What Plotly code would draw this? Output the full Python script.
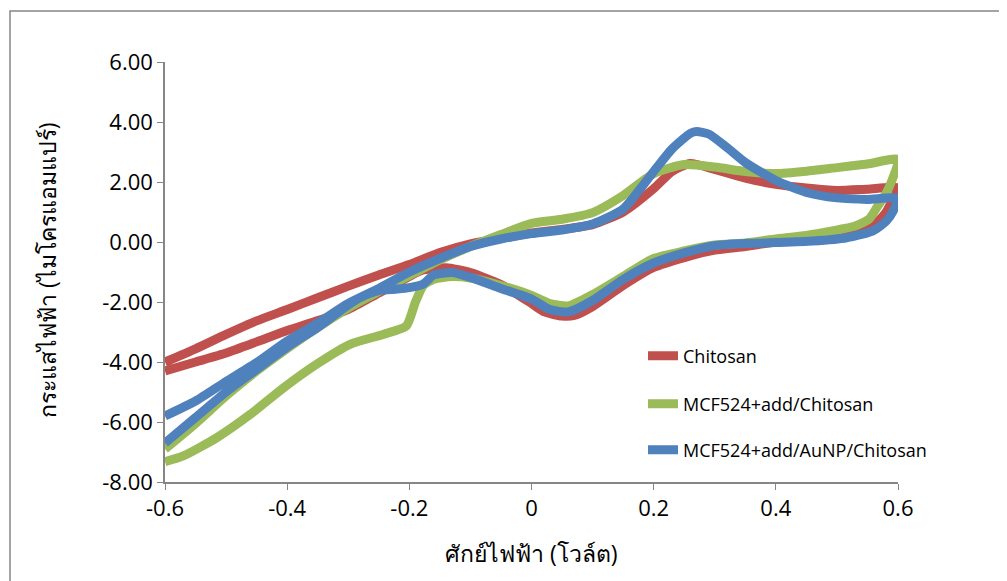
import plotly.graph_objects as go

# ---------------- data ----------------
# Chitosan: forward scan (-0.6 -> 0.6) then reverse (0.6 -> -0.6)
chit_fwd_v = [-0.6, -0.55, -0.5, -0.45, -0.4, -0.35, -0.3, -0.25, -0.2, -0.15, -0.1, -0.05, 0.0, 0.05, 0.1, 0.15,
              0.2, 0.23, 0.26, 0.3, 0.35, 0.4, 0.45, 0.5, 0.55, 0.6]
chit_fwd_i = [-4.0, -3.56, -3.08, -2.63, -2.25, -1.86, -1.47, -1.1, -0.75, -0.35, -0.06, 0.12, 0.3, 0.42, 0.58, 1.0,
              1.78, 2.35, 2.62, 2.42, 2.13, 1.92, 1.8, 1.72, 1.76, 1.8]
chit_rev_v = [0.59, 0.58, 0.565, 0.545, 0.515, 0.46, 0.4, 0.35, 0.3, 0.25, 0.2, 0.15, 0.1, 0.07, 0.05, 0.02, 0.0,
              -0.05, -0.1, -0.14, -0.18, -0.2, -0.25, -0.3, -0.35, -0.4, -0.45, -0.5, -0.55, -0.6]
chit_rev_i = [1.37, 0.98, 0.66, 0.45, 0.26, 0.12, 0.0, -0.15, -0.27, -0.52, -0.85, -1.45, -2.15, -2.45, -2.47,
              -2.32, -2.05, -1.42, -1.02, -0.86, -0.95, -1.15, -1.7, -2.25, -2.62, -2.95, -3.33, -3.7, -4.0, -4.3]

# MCF524+add/Chitosan
mcf_fwd_v = [-0.6, -0.55, -0.5, -0.45, -0.4, -0.35, -0.3, -0.25, -0.2, -0.15, -0.1, -0.05, 0.0, 0.05, 0.1, 0.15,
             0.2, 0.25, 0.3, 0.35, 0.4, 0.45, 0.5, 0.55, 0.6]
mcf_fwd_i = [-6.9, -6.05, -5.13, -4.3, -3.55, -2.85, -2.2, -1.65, -1.12, -0.6, -0.15, 0.25, 0.62, 0.76, 0.98, 1.55,
             2.28, 2.58, 2.5, 2.35, 2.28, 2.36, 2.48, 2.6, 2.75]
mcf_rev_v = [0.59, 0.58, 0.565, 0.553, 0.53, 0.49, 0.45, 0.4, 0.35, 0.3, 0.25, 0.2, 0.15, 0.1, 0.06, 0.03, 0.0,
             -0.05, -0.1, -0.13, -0.16, -0.177, -0.19, -0.205, -0.243, -0.297, -0.35, -0.406, -0.46, -0.515,
             -0.57, -0.6]
mcf_rev_i = [2.05, 1.6, 1.14, 0.77, 0.53, 0.36, 0.22, 0.1, -0.03, -0.1, -0.3, -0.55, -1.15, -1.75, -2.13, -2.05,
             -1.78, -1.45, -1.2, -1.15, -1.24, -1.45, -2.0, -2.8, -3.08, -3.41, -4.05, -4.86, -5.74, -6.52,
             -7.13, -7.32]

# MCF524+add/AuNP/Chitosan
au_fwd_v = [-0.6, -0.55, -0.5, -0.45, -0.4, -0.35, -0.3, -0.25, -0.2, -0.15, -0.1, -0.05, 0.0, 0.05, 0.1, 0.15,
            0.2, 0.23, 0.26, 0.27, 0.29, 0.32, 0.35, 0.4, 0.45, 0.5, 0.55, 0.6]
au_fwd_i = [-5.8, -5.3, -4.65, -4.02, -3.3, -2.7, -2.05, -1.55, -1.0, -0.55, -0.15, 0.1, 0.28, 0.4, 0.6, 1.1,
            2.35, 3.1, 3.62, 3.68, 3.6, 3.15, 2.65, 2.05, 1.65, 1.47, 1.42, 1.45]
au_rev_v = [0.592, 0.581, 0.559, 0.516, 0.46, 0.4, 0.35, 0.3, 0.25, 0.2, 0.15, 0.1, 0.06, 0.03, 0.0, -0.05, -0.1,
            -0.13, -0.16, -0.177, -0.2, -0.22, -0.25, -0.28, -0.3, -0.35, -0.4, -0.45, -0.5, -0.55, -0.6]
au_rev_i = [1.03, 0.7, 0.37, 0.14, 0.03, -0.02, -0.05, -0.12, -0.36, -0.7, -1.25, -1.95, -2.33, -2.25, -1.9, -1.55,
            -1.18, -1.02, -1.1, -1.4, -1.52, -1.57, -1.62, -1.85, -2.1, -2.85, -3.5, -4.25, -5.0, -5.85, -6.7]

series_names = ["Chitosan", "MCF524+add/Chitosan", "MCF524+add/AuNP/Chitosan"]
series_colors = ["#C0504D", "#9BBB59", "#4F81BD"]
x_tick_vals = [-0.6, -0.4, -0.2, 0.0, 0.2, 0.4, 0.6]
x_tick_text = ["-0.6", "-0.4", "-0.2", "0", "0.2", "0.4", "0.6"]
y_tick_vals = [-8, -6, -4, -2, 0, 2, 4, 6]
y_tick_text = ["-8.00", "-6.00", "-4.00", "-2.00", "0.00", "2.00", "4.00", "6.00"]
x_title = "ศักย์ไฟฟ้า (โวล์ต)"
y_title = "กระแสไฟฟ้า (ไมโครแอมแปร์)"

series_v = [chit_fwd_v + chit_rev_v, mcf_fwd_v + mcf_rev_v, au_fwd_v + au_rev_v]
series_i = [chit_fwd_i + chit_rev_i, mcf_fwd_i + mcf_rev_i, au_fwd_i + au_rev_i]

OFF = 8  # the page body adds an 8px margin around the figure
W, H = 1007 - OFF, 581 - OFF
L, R, T, B = 165 - OFF, 898 - OFF, 62 - OFF, 482 - OFF   # plot-area pixel edges in figure coords
FONT = "Open Sans, Noto Sans, DejaVu Sans, sans-serif"


def px2paper_x(px):  # px given in reference (screen) coordinates
    return (px - OFF - L) / (R - L)


def px2paper_y(py):
    return (B - (py - OFF)) / (B - T)


fig = go.Figure()
legend_ids = ["legend", "legend2", "legend3"]
legend_py = [356, 404, 450]
for k in range(3):
    fig.add_trace(go.Scatter(
        x=series_v[k], y=series_i[k], mode="lines", name=series_names[k],
        line=dict(color=series_colors[k], width=9, shape="spline", smoothing=0.6),
        legend=legend_ids[k],
    ))

legend_common = dict(font=dict(family=FONT, size=18, color="#000000"), bgcolor="rgba(0,0,0,0)",
                     borderwidth=0, xanchor="left", yanchor="middle", itemclick=False)
layout_legends = {}
for k in range(3):
    layout_legends[legend_ids[k]] = dict(x=px2paper_x(643), y=px2paper_y(legend_py[k]), **legend_common)

fig.update_layout(
    width=W, height=H,
    margin=dict(l=L, r=W - R, t=T, b=H - B),
    paper_bgcolor="white", plot_bgcolor="white",
    font=dict(family=FONT, size=22, color="#000000"),
    showlegend=True,
    **layout_legends,
)
fig.update_xaxes(range=[-0.6, 0.6], tickvals=x_tick_vals, ticktext=x_tick_text,
                 showgrid=False, zeroline=False, showline=True, linecolor="#868686", linewidth=1.5,
                 ticks="outside", ticklen=6, tickcolor="#868686", tickfont=dict(size=22, family=FONT))
fig.update_yaxes(range=[-8, 6], tickvals=y_tick_vals, ticktext=y_tick_text,
                 showgrid=False, zeroline=False, showline=True, linecolor="#868686", linewidth=1.5,
                 ticks="outside", ticklen=6, tickcolor="#868686", tickfont=dict(size=22, family=FONT))

# axis titles
fig.add_annotation(text=x_title, xref="paper", yref="paper", x=px2paper_x(531), y=px2paper_y(553),
                   showarrow=False, font=dict(size=23, family=FONT), xanchor="center", yanchor="middle")
fig.add_annotation(text=y_title, xref="paper", yref="paper", x=px2paper_x(47), y=px2paper_y(270),
                   showarrow=False, textangle=-90, font=dict(size=23, family=FONT),
                   xanchor="center", yanchor="middle")

# outer chart border
fig.add_shape(type="rect", xref="paper", yref="paper",
              x0=px2paper_x(10), x1=px2paper_x(1002), y0=px2paper_y(600), y1=px2paper_y(11),
              line=dict(color="#868686", width=1.5), fillcolor="rgba(0,0,0,0)", layer="below")

fig.write_html("out.html")
